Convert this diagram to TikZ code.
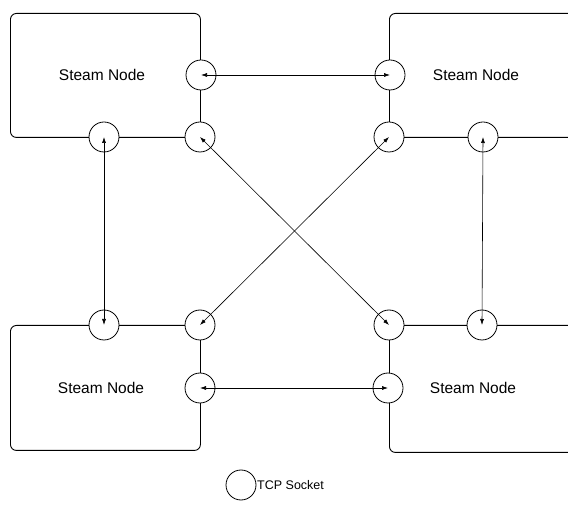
\documentclass[tikz,border=0pt]{standalone}
\usepackage{fontspec}
\setmainfont{Liberation Sans}
\usetikzlibrary{arrows.meta}
\begin{document}
\begin{tikzpicture}[x=1pt,y=-1pt,
  box/.style={draw, rounded corners=6pt, line width=0.9pt, inner sep=0pt, anchor=north west},
  sock/.style={draw, circle, fill=white, minimum size=30pt, inner sep=0pt, line width=0.8pt},
  lbl/.style={font=\fontsize{15.5}{18}\selectfont},
  link/.style={{Latex[length=6pt,width=4pt]}-{Latex[length=6pt,width=4pt]}, line width=0.6pt}]
\useasboundingbox (0,0) rectangle (568,510);
\clip (0,0) rectangle (568,510);
% boxes
\node[box, minimum width=190pt, minimum height=124pt] (tlbox) at (10,13) {};
\node[box, minimum width=230pt, minimum height=124pt] (trbox) at (389,13) {};
\node[box, minimum width=190pt, minimum height=125pt] (blbox) at (10,325) {};
\node[box, minimum width=230pt, minimum height=127pt] (brbox) at (389,325) {};
% labels
\node[lbl] (tllbl) at (102,75) {Steam Node};
\node[lbl] (trlbl) at (476,75) {Steam Node};
\node[lbl] (bllbl) at (101,388) {Steam Node};
\node[lbl] (brlbl) at (473,388) {Steam Node};
% sockets
\node[sock] (tls) at (201,75) {};
\node[sock] (tlc) at (200,137) {};
\node[sock] (tlb) at (104,137) {};
\node[sock] (trs) at (390,75) {};
\node[sock] (trc) at (389,137) {};
\node[sock] (trb) at (483,137) {};
\node[sock] (blt) at (104,325) {};
\node[sock] (blc) at (200,325) {};
\node[sock] (bls) at (200,388) {};
\node[sock] (brc) at (389,325) {};
\node[sock] (brt) at (482,325) {};
\node[sock] (brs) at (388,388) {};
% links
\draw[link] (tls.center) -- (trs.center);
\draw[link] (bls.center) -- (brs.center);
\draw[link] (tlb.center) -- (blt.center);
\draw[link] (trb.center) -- (brt.center);
\draw[link] (tlc.center) -- (brc.center);
\draw[link] (trc.center) -- (blc.center);
% legend
\node[sock] (leg) at (241,485) {};
\node[font=\fontsize{12.5}{15}\selectfont, anchor=west, inner sep=0pt] (legtxt) at (257,485) {TCP Socket};
\end{tikzpicture}
\end{document}
